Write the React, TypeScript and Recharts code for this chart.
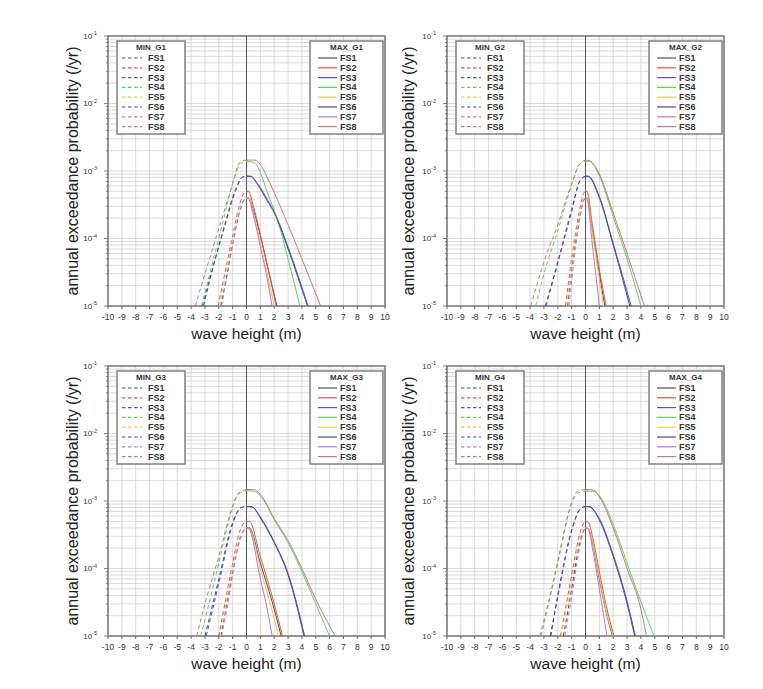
import React from "react"
import {
  LineChart,
  Line,
  XAxis,
  YAxis,
  CartesianGrid,
  ReferenceLine,
  ReferenceArea,
} from "recharts"

type Pt = [number, number]

const fsNames = ["FS1", "FS2", "FS3", "FS4", "FS5", "FS6", "FS7", "FS8"]
const fsColors = ["#50505a", "#f04a4a", "#5050d4", "#52d852", "#e6cf3c", "#4a4a8c", "#c271e0", "#c27886"]
const xTicks = [-10, -9, -8, -7, -6, -5, -4, -3, -2, -1, 0, 1, 2, 3, 4, 5, 6, 7, 8, 9, 10]
const decades = [1e-5, 1e-4, 1e-3, 1e-2, 1e-1]
const minorSteps = [2, 3, 4, 5, 6, 7, 8, 9]

// G1
const minG1: Pt[][] = [
  [[-1.85, 1e-5], [-1.4, 3e-5], [-1, 8.5e-5], [-0.5, 2.5e-4], [-0.15, 3.8e-4], [0, 4e-4]],
  [[-2.05, 1e-5], [-1.5, 3.5e-5], [-1, 1.1e-4], [-0.5, 3.2e-4], [-0.15, 4.8e-4], [0, 5e-4]],
  [[-3.2, 1e-5], [-2.5, 3.3e-5], [-1.5, 1.7e-4], [-0.8, 5e-4], [-0.3, 8.1e-4], [0, 8.4e-4]],
  [[-3.25, 1e-5], [-2.5, 4e-5], [-1.5, 2.6e-4], [-1, 6.5e-4], [-0.5, 1.22e-3], [-0.2, 1.36e-3], [0, 1.38e-3]],
  [[-1.95, 1e-5], [-1.5, 3e-5], [-1, 9.5e-5], [-0.5, 2.6e-4], [-0.15, 3.85e-4], [0, 4e-4]],
  [[-3.1, 1e-5], [-2.5, 3.2e-5], [-1.5, 1.8e-4], [-0.8, 5.3e-4], [-0.3, 8.1e-4], [0, 8.4e-4]],
  [[-1.8, 1e-5], [-1.4, 2.8e-5], [-1, 8e-5], [-0.5, 2.4e-4], [-0.15, 3.8e-4], [0, 4e-4]],
  [[-3.7, 1e-5], [-3, 3e-5], [-2, 1.4e-4], [-1, 6.5e-4], [-0.6, 1.22e-3], [-0.3, 1.42e-3], [0, 1.45e-3]],
]
const maxG1: Pt[][] = [
  [[0, 4e-4], [0.15, 4e-4], [0.5, 2.6e-4], [1, 1.1e-4], [1.5, 4e-5], [2.2, 1e-5]],
  [[0, 5e-4], [0.15, 5e-4], [0.5, 3e-4], [1, 1.15e-4], [1.5, 4e-5], [2.15, 1e-5]],
  [[0, 8.4e-4], [0.3, 8.4e-4], [0.8, 6.5e-4], [1.5, 3.8e-4], [2, 2.5e-4], [3, 7.5e-5], [4.45, 1e-5]],
  [[0, 1.38e-3], [0.5, 1.35e-3], [1, 9.5e-4], [1.5, 4.8e-4], [2.2, 2e-4], [3, 5e-5], [3.85, 1e-5]],
  [[0, 4e-4], [0.15, 4e-4], [0.5, 2.4e-4], [1, 9e-5], [1.5, 3e-5], [2.0, 1e-5]],
  [[0, 8.4e-4], [0.3, 8.3e-4], [0.8, 6.3e-4], [1.5, 3.6e-4], [2, 2.4e-4], [3, 7e-5], [4.4, 1e-5]],
  [[0, 4e-4], [0.1, 4e-4], [0.5, 2.2e-4], [1, 7.5e-5], [1.5, 2.5e-5], [1.85, 1e-5]],
  [[0, 1.45e-3], [0.6, 1.45e-3], [1, 1.25e-3], [1.5, 8e-4], [2, 4.8e-4], [3, 1.6e-4], [4, 5e-5], [5.35, 1e-5]],
]

// G2
const minG2: Pt[][] = [
  [[-1.3, 1e-5], [-1, 3.5e-5], [-0.5, 1.7e-4], [-0.1, 3.8e-4], [0, 4e-4]],
  [[-1.45, 1e-5], [-1, 5e-5], [-0.5, 2.2e-4], [-0.1, 4.8e-4], [0, 5e-4]],
  [[-2.85, 1e-5], [-2, 4.3e-5], [-1, 2.5e-4], [-0.4, 7.2e-4], [0, 8.4e-4]],
  [[-3.6, 1e-5], [-3, 3e-5], [-2, 1.3e-4], [-1, 6.2e-4], [-0.4, 1.28e-3], [0, 1.4e-3]],
  [[-1.35, 1e-5], [-1, 4e-5], [-0.5, 1.8e-4], [-0.1, 3.9e-4], [0, 4e-4]],
  [[-2.9, 1e-5], [-2, 4.5e-5], [-1, 2.7e-4], [-0.4, 7.2e-4], [0, 8.4e-4]],
  [[-1.2, 1e-5], [-0.9, 3.5e-5], [-0.5, 1.5e-4], [-0.1, 3.8e-4], [0, 4e-4]],
  [[-3.95, 1e-5], [-3, 4.5e-5], [-2, 1.6e-4], [-1, 6.5e-4], [-0.4, 1.3e-3], [0, 1.45e-3]],
]
const maxG2: Pt[][] = [
  [[0, 4e-4], [0.1, 4e-4], [0.5, 1.3e-4], [1, 3e-5], [1.4, 1e-5]],
  [[0, 5e-4], [0.1, 5e-4], [0.5, 1.6e-4], [1, 3.5e-5], [1.5, 1e-5]],
  [[0, 8.4e-4], [0.2, 8.4e-4], [1, 4.2e-4], [2, 8.5e-5], [3.3, 1e-5]],
  [[0, 1.4e-3], [0.3, 1.38e-3], [1, 8.5e-4], [2, 2.1e-4], [3, 5e-5], [4.0, 1e-5]],
  [[0, 4e-4], [0.1, 4e-4], [0.5, 1.2e-4], [1, 2.5e-5], [1.3, 1e-5]],
  [[0, 8.4e-4], [0.2, 8.3e-4], [1, 4e-4], [2, 8e-5], [3.2, 1e-5]],
  [[0, 4e-4], [0.1, 3.9e-4], [0.5, 8e-5], [1.0, 1e-5]],
  [[0, 1.45e-3], [0.3, 1.42e-3], [1, 9e-4], [2, 2.4e-4], [3, 6e-5], [4.25, 1e-5]],
]

// G3
const minG3: Pt[][] = [
  [[-1.85, 1e-5], [-1.5, 2.5e-5], [-1, 9e-5], [-0.5, 2.7e-4], [-0.1, 3.9e-4], [0, 4e-4]],
  [[-2.0, 1e-5], [-1.5, 3.5e-5], [-1, 1.2e-4], [-0.5, 3.5e-4], [-0.1, 4.9e-4], [0, 5e-4]],
  [[-2.9, 1e-5], [-2, 6e-5], [-1, 4.5e-4], [-0.4, 8e-4], [0, 8.3e-4]],
  [[-3.3, 1e-5], [-2.5, 4.5e-5], [-2, 1.2e-4], [-1, 8e-4], [-0.6, 1.25e-3], [0, 1.42e-3]],
  [[-1.9, 1e-5], [-1.5, 2.8e-5], [-1, 1e-4], [-0.5, 2.8e-4], [-0.1, 3.9e-4], [0, 4e-4]],
  [[-3.0, 1e-5], [-2, 7e-5], [-1, 4.8e-4], [-0.4, 8e-4], [0, 8.3e-4]],
  [[-1.8, 1e-5], [-1.4, 2.6e-5], [-1, 8e-5], [-0.5, 2.5e-4], [-0.1, 3.8e-4], [0, 4e-4]],
  [[-3.6, 1e-5], [-3, 3e-5], [-2, 1.5e-4], [-1, 8.5e-4], [-0.6, 1.3e-3], [0, 1.48e-3]],
]
const maxG3: Pt[][] = [
  [[0, 4e-4], [0.2, 4e-4], [1, 1.2e-4], [2, 2.5e-5], [2.5, 1e-5]],
  [[0, 5e-4], [0.2, 5e-4], [1, 1.5e-4], [2, 3e-5], [2.6, 1e-5]],
  [[0, 8.3e-4], [0.4, 8.2e-4], [1, 5.8e-4], [2, 2.5e-4], [3, 8.5e-5], [4.2, 1e-5]],
  [[0, 1.42e-3], [0.5, 1.4e-3], [1, 1.2e-3], [2, 5.3e-4], [3, 2.4e-4], [4, 9e-5], [5, 3e-5], [6.0, 1e-5]],
  [[0, 4e-4], [0.2, 3.9e-4], [1, 1e-4], [2, 1.8e-5], [2.3, 1e-5]],
  [[0, 8.3e-4], [0.4, 8.2e-4], [1, 5.6e-4], [2, 2.4e-4], [3, 8e-5], [4.15, 1e-5]],
  [[0, 4e-4], [0.2, 3.8e-4], [1, 7e-5], [1.5, 2.5e-5], [1.85, 1e-5]],
  [[0, 1.48e-3], [0.5, 1.48e-3], [1, 1.25e-3], [2, 5.5e-4], [3, 2.6e-4], [4, 1e-4], [5, 3.5e-5], [6.4, 1e-5]],
]

// G4
const minG4: Pt[][] = [
  [[-1.6, 1e-5], [-1.3, 2.2e-5], [-1, 5e-5], [-0.5, 2e-4], [-0.1, 3.8e-4], [0, 4e-4]],
  [[-1.8, 1e-5], [-1.5, 2.2e-5], [-1, 8e-5], [-0.5, 2.8e-4], [-0.1, 4.8e-4], [0, 5e-4]],
  [[-2.55, 1e-5], [-2, 3.8e-5], [-1, 3.6e-4], [-0.4, 7.5e-4], [0, 8.3e-4]],
  [[-3.2, 1e-5], [-2.5, 4.2e-5], [-2, 1.2e-4], [-1, 9e-4], [-0.6, 1.3e-3], [0, 1.4e-3]],
  [[-1.75, 1e-5], [-1.4, 2.4e-5], [-1, 6.5e-5], [-0.5, 2.3e-4], [-0.1, 3.9e-4], [0, 4e-4]],
  [[-2.5, 1e-5], [-2, 4e-5], [-1, 3.7e-4], [-0.4, 7.6e-4], [0, 8.3e-4]],
  [[-1.5, 1e-5], [-1.2, 2.2e-5], [-0.9, 5e-5], [-0.5, 1.7e-4], [-0.1, 3.7e-4], [0, 4e-4]],
  [[-3.3, 1e-5], [-2.5, 4.5e-5], [-2, 1.3e-4], [-1, 9.5e-4], [-0.6, 1.38e-3], [0, 1.48e-3]],
]
const maxG4: Pt[][] = [
  [[0, 4e-4], [0.2, 3.9e-4], [0.5, 2.4e-4], [1, 7e-5], [1.5, 2.2e-5], [1.95, 1e-5]],
  [[0, 5e-4], [0.2, 4.9e-4], [0.5, 3e-4], [1, 9e-5], [1.5, 2.8e-5], [2.05, 1e-5]],
  [[0, 8.3e-4], [0.3, 8.2e-4], [1, 5.5e-4], [2, 1.6e-4], [3, 3.3e-5], [3.6, 1e-5]],
  [[0, 1.4e-3], [0.6, 1.38e-3], [1, 1.2e-3], [2, 4.5e-4], [3, 1.2e-4], [4, 3.2e-5], [4.95, 1e-5]],
  [[0, 4e-4], [0.2, 3.9e-4], [0.5, 2.5e-4], [1, 7.5e-5], [1.5, 2.3e-5], [2.0, 1e-5]],
  [[0, 8.3e-4], [0.3, 8.2e-4], [1, 5.2e-4], [2, 1.5e-4], [3, 3e-5], [3.55, 1e-5]],
  [[0, 4e-4], [0.2, 3.8e-4], [0.5, 2e-4], [1, 5e-5], [1.55, 1e-5]],
  [[0, 1.48e-3], [0.6, 1.45e-3], [1, 1.15e-3], [2, 4e-4], [3, 1e-4], [4, 2.5e-5], [4.4, 1e-5]],
]

const yTicks: number[] = []
decades.forEach((d, i) => {
  yTicks.push(d)
  if (i < decades.length - 1) minorSteps.forEach((m) => yTicks.push(d * m))
})

const AXIS_W = 68
const TOP = 16
const PLOT_W = 277
const PLOT_H = 270
const X_AXIS_H = 44
const CHART_W = AXIS_W + PLOT_W + 15
const CHART_H = TOP + PLOT_H + X_AXIS_H

const toRows = (pts: Pt[]) => pts.map(([x, y]) => ({ x, y }))

function LogTick(props: any) {
  const { y, payload } = props
  const lg = Math.log10(payload.value)
  const e = Math.round(lg)
  const isDecade = Math.abs(lg - e) < 1e-6
  return (
    <g>
      <line x1={AXIS_W - (isDecade ? 4 : 2)} x2={AXIS_W} y1={y} y2={y} stroke="#666" strokeWidth={0.8} />
      {isDecade && (
        <text x={AXIS_W - 11} y={y} textAnchor="end" dominantBaseline="central" fontSize={8} fill="#333">
          10
          <tspan dy={-3} fontSize={5.5}>{e}</tspan>
        </text>
      )}
    </g>
  )
}

function LegendBox({ title, dashed, left, top, width, lineX1, lineX2, textX }: any) {
  const height = 95
  return (
    <svg style={{ position: "absolute", left, top }} width={width} height={height}>
      <rect x={1} y={1} width={width - 2} height={height - 2} fill="#fff" stroke="#888" strokeWidth={1.6} />
      <text x={width / 2} y={7.5} textAnchor="middle" dominantBaseline="central" fontSize={8} fontWeight="bold" fill="#333">
        {title}
      </text>
      {fsNames.map((n, i) => {
        const cy = 18 + i * 9.8
        return (
          <g key={n}>
            <line
              x1={lineX1}
              x2={lineX2}
              y1={cy}
              y2={cy}
              stroke={fsColors[i]}
              strokeWidth={1.2}
              strokeDasharray={dashed ? "3.5 2.5" : undefined}
            />
            <text x={textX} y={cy} dominantBaseline="central" fontSize={9} fontWeight="bold" fill="#333">
              {n}
            </text>
          </g>
        )
      })}
    </svg>
  )
}

function Panel({ tag, minSet, maxSet, plotLeft, plotTop, labelOffset }: any) {
  return (
    <>
      <div style={{ position: "absolute", left: plotLeft - AXIS_W, top: plotTop - TOP }}>
        <LineChart width={CHART_W} height={CHART_H} margin={{ top: TOP, right: 15, bottom: 0, left: 0 }}>
          <CartesianGrid stroke="#d0d0d0" strokeWidth={0.8} />
          <XAxis
            type="number"
            dataKey="x"
            domain={[-10, 10]}
            ticks={xTicks}
            interval={0}
            allowDataOverflow
            height={X_AXIS_H}
            axisLine={false}
            tickSize={3}
            tickMargin={5}
            tickLine={{ stroke: "#666" }}
            tick={{ fontSize: 8.5, fill: "#333" }}
            label={{ value: "wave height (m)", position: "insideBottom", offset: 11, fontSize: 15.5, fill: "#222" }}
          />
          <YAxis
            type="number"
            scale="log"
            domain={[1e-5, 1e-1]}
            allowDataOverflow
            ticks={yTicks}
            interval={0}
            width={AXIS_W}
            axisLine={false}
            tickLine={false}
            tick={<LogTick />}
            label={{
              value: "annual exceedance probability (/yr)",
              angle: -90,
              position: "insideLeft",
              offset: labelOffset,
              fontSize: 16,
              fill: "#222",
              style: { textAnchor: "middle" },
            }}
          />
          <ReferenceLine x={0} stroke="#555" strokeWidth={1} />
          {minSet.map((pts: Pt[], i: number) => (
            <Line
              key={"min" + i}
              data={toRows(pts)}
              dataKey="y"
              type="monotone"
              stroke={fsColors[i]}
              strokeWidth={1}
              strokeDasharray="4 3"
              dot={false}
              isAnimationActive={false}
            />
          ))}
          {maxSet.map((pts: Pt[], i: number) => (
            <Line
              key={"max" + i}
              data={toRows(pts)}
              dataKey="y"
              type="monotone"
              stroke={fsColors[i]}
              strokeWidth={1}
              dot={false}
              isAnimationActive={false}
            />
          ))}
          <ReferenceArea x1={-10} x2={10} y1={1e-5} y2={1e-1} fill="none" stroke="#777" strokeWidth={1.5} />
        </LineChart>
      </div>
      <LegendBox title={"MIN_" + tag} dashed left={plotLeft + 8} top={plotTop + 4} width={70} lineX1={6} lineX2={26} textX={32} />
      <LegendBox title={"MAX_" + tag} left={plotLeft + PLOT_W - 76} top={plotTop + 4} width={75} lineX1={9} lineX2={28} textX={31} />
    </>
  )
}

export default function App() {
  return (
    <div
      style={{
        position: "absolute",
        left: 0,
        top: 0,
        width: 763,
        height: 689,
        background: "#fff",
        fontFamily: "'Liberation Sans', Arial, sans-serif",
      }}
    >
      <Panel tag="G1" minSet={minG1} maxSet={maxG1} plotLeft={108} plotTop={36} labelOffset={32} />
      <Panel tag="G2" minSet={minG2} maxSet={maxG2} plotLeft={447} plotTop={36} labelOffset={29} />
      <Panel tag="G3" minSet={minG3} maxSet={maxG3} plotLeft={108} plotTop={366} labelOffset={32} />
      <Panel tag="G4" minSet={minG4} maxSet={maxG4} plotLeft={447} plotTop={366} labelOffset={29} />
    </div>
  )
}
